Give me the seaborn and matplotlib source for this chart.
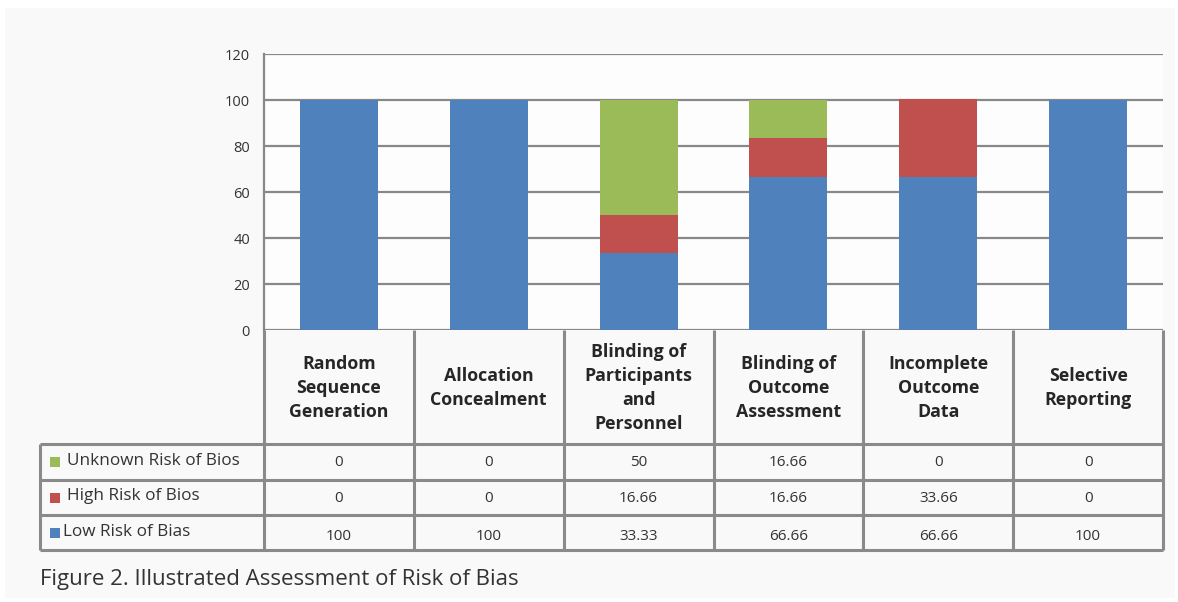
import matplotlib
matplotlib.use('Agg')

import seaborn as sns
import matplotlib.pyplot as plt
import pandas as pd
from matplotlib.patches import Rectangle

# data
categories = ["Random\nSequence\nGeneration", "Allocation\nConcealment",
              "Blinding of\nParticipants\nand\nPersonnel", "Blinding of\nOutcome\nAssessment",
              "Incomplete\nOutcome\nData", "Selective\nReporting"]
series_names = ["Unknown Risk of Bios", "High Risk of Bios", "Low Risk of Bias"]
unknown_risk = [0, 0, 50, 16.66, 0, 0]
high_risk = [0, 0, 16.66, 16.66, 33.66, 0]
low_risk = [100, 100, 33.33, 66.66, 66.66, 100]
colors = ["#9bbb59", "#c0504d", "#4f81bd"]
y_ticks = [0, 20, 40, 60, 80, 100, 120]
caption = "Figure 2. Illustrated Assessment of Risk of Bias"

sns.set_theme(style="white")
plt.rcParams['font.family'] = ['Open Sans', 'DejaVu Sans']

W, H = 1178, 602
fig = plt.figure(figsize=(W / 100, H / 100), dpi=100, facecolor="white")

# background panel + table drawn in pixel coordinates
bg = fig.add_axes([0, 0, 1, 1])
bg.set_xlim(0, W)
bg.set_ylim(H, 0)
bg.axis("off")
bg.add_patch(Rectangle((5, 8), 1170, 590, facecolor="#f9f9f9", edgecolor="none"))

# stacked bars: draw cumulative totals, tallest first
df = pd.DataFrame({"cat": categories, "low": low_risk, "high": high_risk, "unknown": unknown_risk})
df["c_low"] = df["low"]
df["c_high"] = df["low"] + df["high"]
df["c_unknown"] = df["c_high"] + df["unknown"]

left, right, top, bottom = 264, 1163, 54, 330
ax = fig.add_axes([left / W, (H - bottom) / H, (right - left) / W, (bottom - top) / H])
ax.set_facecolor("#fdfdfd")
for col, color in zip(["c_unknown", "c_high", "c_low"], colors):
    sns.barplot(data=df, x="cat", y=col, order=categories, color=color,
                width=0.52, saturation=1, linewidth=0, ax=ax, zorder=3)
ax.set_ylim(0, 120)
ax.set_xlim(-0.5, len(categories) - 0.5)
ax.set_yticks(y_ticks)
ax.yaxis.grid(True, color="#888888", linewidth=1.6, zorder=0)
ax.set_axisbelow(True)
ax.set_xlabel("")
ax.set_ylabel("")
ax.set_xticks([])
ax.tick_params(axis="y", length=0, pad=10, labelsize=10.5, labelcolor="#333333")
for s in ["top", "right", "bottom"]:
    ax.spines[s].set_visible(False)
ax.spines["left"].set_color("#888888")
ax.spines["left"].set_linewidth(1.6)

# data table below the axis
line_kw = dict(color="#8a8a8a", linewidth=2.2, solid_capstyle="butt")
col_w = (right - left) / len(categories)
row_edges = [444, 480, 515, 550]
tab_left = 40
# header cells
for i in range(len(categories) + 1):
    x = left + i * col_w
    bg.plot([x, x], [bottom, row_edges[-1]], **line_kw)
bg.plot([tab_left, tab_left], [row_edges[0], row_edges[-1]], **line_kw)
for y in row_edges:
    bg.plot([tab_left, right], [y, y], **line_kw)
for i, cat in enumerate(categories):
    bg.text(left + (i + 0.5) * col_w, 388, cat, ha="center", va="center",
            fontsize=12.8, fontweight="bold", color="#262626", linespacing=1.44)

rows = [unknown_risk, high_risk, low_risk]
for r, (name, vals, color) in enumerate(zip(series_names, rows, colors)):
    ymid = (row_edges[r] + row_edges[r + 1]) / 2
    yc = ymid + (4 if r == 2 else 1)
    bg.add_patch(Rectangle((50, ymid - 5), 10, 10, facecolor=color, edgecolor="none"))
    bg.text(67 if r < 2 else 63, ymid - 1, name,
            ha="left", va="center", fontsize=12.3, color="#333333")
    for i, v in enumerate(vals):
        bg.text(left + (i + 0.5) * col_w, yc, f"{v:g}", ha="center", va="center",
                fontsize=11, color="#333333")

bg.text(tab_left, 580, caption, ha="left", va="center", fontsize=16, color="#333333")

plt.savefig("out.png", dpi=100, facecolor="white")
plt.close("all")
